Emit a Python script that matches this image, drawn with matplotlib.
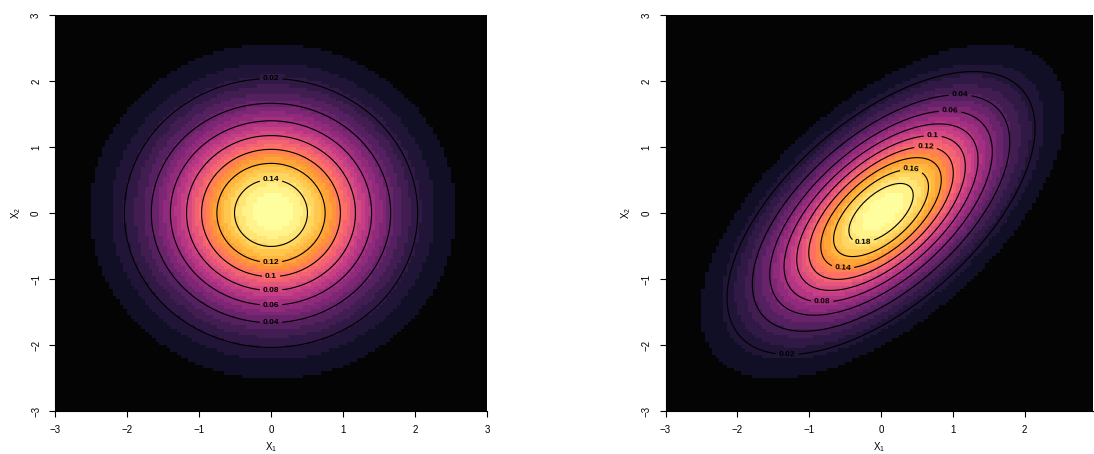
import numpy as np
import matplotlib
matplotlib.use('Agg')
import matplotlib.pyplot as plt
from matplotlib.colors import ListedColormap, BoundaryNorm

plt.rcParams['font.family'] = ['Liberation Sans', 'DejaVu Sans']
plt.rcParams['mathtext.fontset'] = 'custom'
plt.rcParams['mathtext.rm'] = 'Liberation Sans'
plt.rcParams['mathtext.it'] = 'Liberation Sans:italic'

# parametros de las dos normales bivariadas
means = [[0.0, 0.0], [0.0, 0.0]]
sds = [[1.0, 1.0], [1.0, 1.0]]
rhos = [0.0, 0.6]

# niveles de contorno
levels_left = [0.02, 0.04, 0.06, 0.08, 0.10, 0.12, 0.14]
levels_right = [0.02, 0.04, 0.06, 0.08, 0.10, 0.12, 0.14, 0.16, 0.18]

# donde van las etiquetas de cada contorno
label_pos_left = [(0, 2.04), (0, -1.67), (0, -1.40), (0, -1.18),
                  (0, -0.96), (0, -0.75), (0, 0.49)]
label_pos_right = [(-1.31, -2.15), (1.10, 1.79), (0.96, 1.53), (-0.82, -1.36),
                   (0.72, 1.17), (0.62, 0.98), (-0.53, -0.83), (0.42, 0.64),
                   (-0.25, -0.44)]

xlims = [(-3, 3), (-3, 2.95)]
xticks_left = [-3, -2, -1, 0, 1, 2, 3]
xticks_right = [-3, -2, -1, 0, 1, 2]
yticks = [-3, -2, -1, 0, 1, 2, 3]
n_colors = 25


def dens(x, y, mu, sd, rho):
    zx = (x - mu[0]) / sd[0]
    zy = (y - mu[1]) / sd[1]
    q = (zx**2 - 2 * rho * zx * zy + zy**2) / (1 - rho**2)
    return np.exp(-q / 2) / (2 * np.pi * sd[0] * sd[1] * np.sqrt(1 - rho**2))


def hcl_inferno(n):
    # paleta secuencial HCL "Inferno" (como hcl.colors de R)
    h1, h2, c1, c2, l1, l2, p1, cmax = -100, 85, 0, 65, 1, 98, 1.1, 120
    i = np.linspace(1, 0, n)
    h = h2 - (h2 - h1) * i
    l = l2 - (l2 - l1) * i**p1
    j = 1 / (1 + abs(cmax - c1) / abs(cmax - c2))
    c = np.where(i <= j, c2 - (c2 - cmax) * (i / j)**p1,
                 cmax - (cmax - c1) * ((i - j) / (1 - j))**p1)
    # polar LUV -> XYZ -> sRGB
    Xn, Yn, Zn = 95.047, 100.0, 108.883
    un = 4 * Xn / (Xn + 15 * Yn + 3 * Zn)
    vn = 9 * Yn / (Xn + 15 * Yn + 3 * Zn)
    U = c * np.cos(np.radians(h))
    V = c * np.sin(np.radians(h))
    Y = np.where(l > 8, Yn * ((l + 16) / 116)**3, Yn * l * (3 / 29)**3)
    up = U / (13 * l) + un
    vp = V / (13 * l) + vn
    X = 9 * Y * up / (4 * vp)
    Z = -X / 3 - 5 * Y + 3 * Y / vp
    M = np.array([[3.240479, -1.537150, -0.498535],
                  [-0.969256, 1.875992, 0.041556],
                  [0.055648, -0.204043, 1.057311]])
    rgb = M @ np.vstack([X, Y, Z]) / 100
    rgb = np.where(rgb > 0.00304, 1.055 * np.abs(rgb)**(1 / 2.4) - 0.055, 12.92 * rgb)
    return np.clip(rgb.T, 0, 1)


# rejilla gruesa para la imagen, fina para los contornos
edges = np.arange(-3, 3.0001, 0.05)
centers = np.round((edges[:-1] + edges[1:]) / 2 / 0.05) * 0.05
fine = np.linspace(-3, 3, 601)

fig = plt.figure(figsize=(10.94, 4.54), dpi=100)
axes = [fig.add_axes([55 / 1094, 43 / 454, 432 / 1094, 396 / 454]),
        fig.add_axes([665.5 / 1094, 43 / 454, 427.5 / 1094, 396 / 454])]

cols = ListedColormap(hcl_inferno(n_colors))

panels = [(levels_left, label_pos_left, xticks_left),
          (levels_right, label_pos_right, xticks_right)]

for i, ax in enumerate(axes):
    levels, label_pos, xt = panels[i]
    CX, CY = np.meshgrid(centers, centers)
    Z = dens(CX, CY, means[i], sds[i], rhos[i])
    norm = BoundaryNorm(np.linspace(Z.min(), Z.max() * 1.0001, n_colors + 1), n_colors)
    ax.pcolormesh(edges, edges, Z, cmap=cols, norm=norm, shading='flat')

    FX, FY = np.meshgrid(fine, fine)
    FZ = dens(FX, FY, means[i], sds[i], rhos[i])
    for lv, pos in zip(levels, label_pos):
        cs = ax.contour(FX, FY, FZ, levels=[lv], colors='black', linewidths=0.8)
        lab = ax.clabel(cs, fmt='%g', fontsize=6, inline=True, inline_spacing=3,
                        manual=[pos])
        for t in lab:
            t.set_fontweight('bold')

    ax.set_xlim(*xlims[i])
    ax.set_ylim(-3, 3)
    ax.set_xticks(xt)
    ax.set_yticks(yticks)
    ax.set_xticklabels([str(t).replace('-', '\u2212') for t in xt])
    ax.set_yticklabels([str(t).replace('-', '\u2212') for t in yticks],
                       rotation=90, va='center')
    for s in ['top', 'right']:
        ax.spines[s].set_visible(False)
    for s in ['left', 'bottom']:
        ax.spines[s].set_linewidth(0.8)
    ax.tick_params(direction='out', length=4, width=0.8, labelsize=7, pad=6)
    ax.set_xlabel(r'$\mathrm{X}_1$', fontsize=7, labelpad=4)
    ax.set_ylabel(r'$\mathrm{X}_2$', fontsize=7, labelpad=6)

fig.savefig('out.png', dpi=100)
